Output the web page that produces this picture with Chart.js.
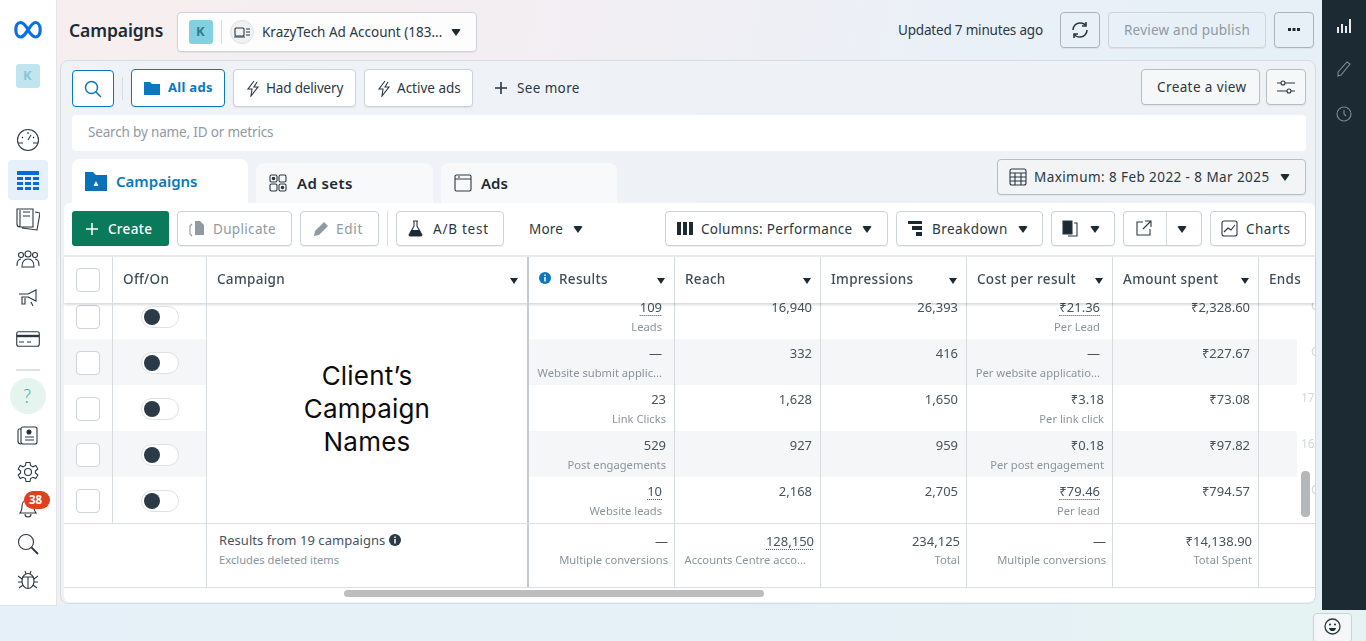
<!DOCTYPE html>
<html><head><meta charset="utf-8"><title>Campaigns</title>
<script src="https://cdn.jsdelivr.net/npm/chart.js@4"></script>
<style>
html,body{margin:0;padding:0;width:1366px;height:641px;overflow:hidden;font-family:"Noto Sans",sans-serif;color:#1c2b33}
body{position:relative;background:linear-gradient(100deg,#f7eeee 0%,#f3eef2 35%,#e9f0f8 70%,#e6f0f6 100%)}
div,i,svg,span.t{position:absolute;box-sizing:border-box}
.t{transform:translateY(-50%);white-space:nowrap;font-size:13.5px;color:#2a3842;line-height:1.2}
.b{background:#fff;border:1px solid #cbd2d9;border-radius:4px;box-shadow:0 1px 1px rgba(0,0,0,.06)}
.bl{border:1.5px solid #0a78be}
.car{width:0;height:0;border-left:5.5px solid transparent;border-right:5.5px solid transparent;border-top:7px solid #1c2b33;border-radius:2px}
.hc{width:0;height:0;border-left:4.5px solid transparent;border-right:4.5px solid transparent;border-top:6px solid #1c2b33}
.dis{color:#8f9aa3}
.v{background:#d6dbdf;width:1px}
svg{fill:none;stroke:#2a3842;stroke-width:1.1}
.cb{width:24px;height:24px;left:76px;background:#fff;border:1px solid #cfd4d9;border-radius:4px}
.tg{width:38px;height:22px;left:141px;background:#fff;border:1px solid #dfe2e5;border-radius:11px}
.tg i{left:2px;top:2px;width:16px;height:16px;border-radius:50%;background:#2b3a47}
.hdr{font-size:13.5px;color:#3f4d57;font-weight:500;letter-spacing:.3px}
</style></head><body>
<div style="left:0;top:604px;width:1366px;height:37px;background:linear-gradient(90deg,#e5f0f8 0%,#e5f0f7 50%,#e6f3f2 100%)"></div>
<div style="left:0;top:0;width:57px;height:606px;background:#fff;border-right:1px solid #e2e5e8;border-bottom:1px solid #e2e5e8"></div>
<div style="left:1322px;top:0;width:44px;height:610px;background:#1c2b33"></div>
<!-- left rail -->
<svg style="left:14px;top:20px" width="28" height="20" viewBox="0 0 28 20"><path d="M14 10C11 4 8.500 2.500 6.500 2.500C3.500 2.500 1.800 5.500 1.800 9.500C1.800 14 3.800 17 6.500 17C10 17 11.500 13 14 10C16.500 6 18.500 2.500 21.500 2.500C24.500 2.500 26.200 6 26.200 10C26.200 14 24.500 17 21.500 17C18.500 17 16.500 14 14 10Z" stroke="#0a6fe6" stroke-width="3.200"/></svg>
<div style="left:16px;top:64px;width:24px;height:24px;background:#bfe6ef;border-radius:3px"></div><span class="t" style="left:23px;top:76px;font-weight:700;font-size:13px;color:#8cc5d2">K</span>
<svg style="left:16px;top:128px" width="24" height="24" viewBox="0 0 24 24"><circle cx="12" cy="12" r="10.500"/><path d="M2 15H7M17 15H22M12 12L15 7M6 9L7 10M12 4V6M18 9L17 10"/></svg>
<div style="left:8px;top:160px;width:40px;height:40px;background:#e6f0fa;border-radius:4px"></div>
<svg style="left:16px;top:169px" width="24" height="22" viewBox="0 0 24 22"><path d="M1 2H23V6H1ZM1 8H7V11H1ZM9 8H15V11H9ZM17 8H23V11H17ZM1 13H7V16H1ZM9 13H15V16H9ZM17 13H23V16H17ZM1 18H7V21H1ZM9 18H15V21H9ZM17 18H23V21H17Z" fill="#0a68d8" stroke="none"/></svg>
<svg style="left:16px;top:207px" width="24" height="24" viewBox="0 0 24 24"><path d="M1 2H17V20H4C2 20 1 19 1 17ZM4 3V20M7 5H14M7 9H14M19 5L24 6L21 23L6 21"/></svg>
<svg style="left:16px;top:250px" width="24" height="18" viewBox="0 0 24 18"><circle cx="5" cy="5" r="2.500"/><circle cx="12" cy="4" r="3"/><circle cx="19" cy="5" r="2.500"/><path d="M1 16C1 11 3 9 5 9M23 16C23 11 21 9 19 9M6 17C6 11 9 9 12 9C15 9 18 11 18 17Z"/></svg>
<svg style="left:18px;top:288px" width="20" height="20" viewBox="0 0 20 20"><path d="M1 6H10L18 2V13L10 9H4V16H7V10M13 14L15 18"/></svg>
<svg style="left:16px;top:331px" width="24" height="16" viewBox="0 0 24 16"><rect x=".7" y=".7" width="22.600" height="14.600" rx="2"/><path d="M1 5H23" stroke-width="2.400"/><path d="M3 11H8M11 11H15"/></svg>
<div style="left:16px;top:369px;width:24px;height:1.500px;background:#dde1e4"></div>
<div style="left:10px;top:378px;width:36px;height:36px;border-radius:50%;background:#e6f4f0"></div><span class="t" style="left:23px;top:396px;font-size:19px;font-family:Lato,sans-serif;font-weight:300;color:#3aa99a">?</span>
<svg style="left:17px;top:426px" width="21" height="20" viewBox="0 0 21 20"><rect x="4" y="1" width="16" height="17" rx="2"/><path d="M4 3H2C1 3 1 4 1 5V15C1 17 2 18 4 18M8 11H17M8 14H17"/><circle cx="12" cy="6" r="2" fill="#1c2b33"/></svg>
<svg style="left:17px;top:461px" width="22" height="22" viewBox="0 0 22 22"><circle cx="11" cy="11" r="3.500"/><path d="M9 1.500H13L13.500 4.500L16 5.800L18.800 4.500L20.800 8L18.400 10V12L20.800 14L18.800 17.500L16 16.300L13.500 17.500L13 20.500H9L8.500 17.500L6 16.300L3.200 17.500L1.200 14L3.600 12V10L1.200 8L3.200 4.500L6 5.800L8.500 4.500Z"/></svg>
<svg style="left:18px;top:497px" width="20" height="22" viewBox="0 0 20 22"><path d="M2 16C4 14 4 11 4 9C4 5 7 3 10 3C13 3 16 5 16 9C16 11 16 14 18 16ZM7 17C7 21 13 21 13 17"/></svg>
<div style="left:24px;top:491px;width:26px;height:18px;border-radius:9px;background:#e0401f"></div><span class="t" style="left:29px;top:500px;font-size:11.500px;font-weight:700;color:#fff">38</span>
<svg style="left:17px;top:533px" width="22" height="22" viewBox="0 0 22 22"><circle cx="9" cy="9" r="7.500"/><path d="M14.500 14.500L21 21" stroke-width="1.800"/></svg>
<svg style="left:18px;top:570px" width="20" height="20" viewBox="0 0 20 20"><ellipse cx="10" cy="11" rx="6" ry="7.500"/><path d="M4 7H16M10 7V18M7 1L8 4M13 1L12 4M0 6L4 9M20 6L16 9M0 12H4M20 12H16M1 18L5 15M19 18L15 15"/></svg>
<!-- top bar -->
<span class="t" style="left:69px;top:30px;font-size:17.500px;font-weight:600;letter-spacing:-.1px;color:#1c2b33">Campaigns</span>
<div class="b" style="left:177px;top:12px;width:300px;height:40px;background:rgba(255,255,255,.85)"></div>
<div style="left:189px;top:20px;width:24px;height:24px;background:#83d1e0;border-radius:3px"></div><span class="t" style="left:196px;top:32px;font-weight:700;font-size:13px;color:#2d7e91">K</span>
<div class="v" style="left:221px;top:20px;height:24px"></div>
<div style="left:230px;top:20px;width:24px;height:24px;border-radius:50%;background:#f0f2f4;border:1px solid #dfe2e5"></div>
<svg style="left:234px;top:27px" width="16" height="11" viewBox="0 0 16 11"><rect x="1" y="1" width="9" height="8" rx="1"/><path d="M12 2H16M12 5H16M12 8H16M0 10H11"/></svg>
<span class="t" style="left:262px;top:32px">KrazyTech Ad Account (183...</span><i class="car" style="left:451px;top:29px"></i>
<span class="t" style="left:898px;top:30px;letter-spacing:-.19px">Updated 7 minutes ago</span>
<div class="b" style="left:1060px;top:12px;width:40px;height:36px;background:transparent;border-color:#aab4bc"></div>
<svg style="left:1071px;top:21px" width="18" height="18" viewBox="0 0 18 18"><path d="M2 9C2 5 5 2 9 2C12 2 14 3 15 5M16 9C16 13 13 16 9 16C6 16 4 15 3 13M15 1V5H11M3 17V13H7" stroke-width="1.600"/></svg>
<div class="b" style="left:1108px;top:12px;width:158px;height:36px;background:transparent;border-color:#ccd4da"></div><span class="t dis" style="left:1124px;top:30px;letter-spacing:.22px">Review and publish</span>
<div class="b" style="left:1274px;top:12px;width:40px;height:36px;background:transparent;border-color:#aab4bc"></div>
<svg style="left:1287px;top:28px" width="14" height="4" viewBox="0 0 14 4"><path d="M1 0H4V3H1ZM5.500 0H8.500V3H5.500ZM10 0H13V3H10Z" fill="#1c2b33" stroke="none"/></svg>
<!-- right rail -->
<svg style="left:1336px;top:18px" width="16" height="16" viewBox="0 0 16 16"><path d="M2 9V15M6 6V15M10 8V15M14 1V15" stroke="#fff" stroke-width="1.800"/></svg>
<svg style="left:1336px;top:60px" width="16" height="18" viewBox="0 0 16 18"><path d="M2 12L11 2L14 4L5 15L2 16Z" stroke="#7e8a93"/></svg>
<svg style="left:1336px;top:105px" width="16" height="18" viewBox="0 0 16 18"><circle cx="8" cy="9" r="7" stroke="#7e8a93"/><path d="M8 5V9L10 11" stroke="#7e8a93"/></svg>
<!-- panel -->
<div style="left:60px;top:60px;width:1256px;height:544px;background:linear-gradient(90deg,#eff2f6,#eef2f7);border:1px solid #d6dde2;border-radius:8px"></div>
<div class="b bl" style="left:72px;top:70px;width:42px;height:37px"></div>
<svg style="left:84px;top:80px" width="18" height="18" viewBox="0 0 18 18"><circle cx="7.500" cy="7.500" r="6" stroke="#0a78be" stroke-width="1.500"/><path d="M12 12L17 17" stroke="#0a78be" stroke-width="1.500"/></svg>
<div class="v" style="left:122px;top:77px;height:23px"></div>
<div class="b bl" style="left:131px;top:69px;width:94px;height:38px"></div>
<svg style="left:144px;top:81px" width="16" height="14" viewBox="0 0 16 14"><path d="M0 1H6L8 3H16V14H0Z" fill="#0a78be" stroke="none"/></svg>
<span class="t" style="left:168px;top:88px;font-weight:700;font-size:13px;color:#0a78be;letter-spacing:.3px">All ads</span>
<div class="b" style="left:233px;top:69px;width:123px;height:38px"></div>
<svg style="left:246px;top:80px" width="14" height="17" viewBox="0 0 14 17"><path d="M8 1L2 9H6L5 16L12 7H8L11 2"/></svg>
<span class="t" style="left:266px;top:88px;letter-spacing:-.17px">Had delivery</span>
<div class="b" style="left:364px;top:69px;width:109px;height:38px"></div>
<svg style="left:377px;top:80px" width="14" height="17" viewBox="0 0 14 17"><path d="M8 1L2 9H6L5 16L12 7H8L11 2"/></svg>
<span class="t" style="left:397px;top:88px">Active ads</span>
<svg style="left:495px;top:82px" width="12" height="12" viewBox="0 0 12 12"><path d="M6 0V12M0 6H12" stroke-width="1.600"/></svg>
<span class="t" style="left:517px;top:88px;letter-spacing:.37px">See more</span>
<div class="b" style="left:1141px;top:69px;width:119px;height:36px;background:#f6f7f9;border-color:#b6bfc6"></div><span class="t" style="left:1157px;top:87px;letter-spacing:.4px">Create a view</span>
<div class="b" style="left:1266px;top:69px;width:40px;height:36px;background:#f6f7f9;border-color:#b6bfc6"></div>
<svg style="left:1276px;top:78px" width="20" height="18" viewBox="0 0 20 18"><circle cx="7" cy="5" r="2"/><circle cx="13" cy="13" r="2"/><path d="M1 5H5M9 5H19M1 13H11M15 13H19"/></svg>
<div style="left:72px;top:115px;width:1234px;height:36px;background:#fff;border-radius:4px"></div>
<span class="t dis" style="left:88px;top:132px;letter-spacing:-.17px">Search by name, ID or metrics</span>
<div style="left:256px;top:163px;width:177px;height:46px;background:#f8f9fa;border-radius:8px 8px 0 0"></div>
<svg style="left:269px;top:174px" width="18" height="18" viewBox="0 0 18 18"><rect x="1" y="1" width="7" height="7" rx="1.500"/><rect x="10" y="1" width="7" height="7" rx="1.500"/><rect x="1" y="10" width="7" height="7" rx="1.500"/><rect x="10" y="10" width="7" height="7" rx="1.500"/><circle cx="4.500" cy="4.500" r="1.200" fill="#1c2b33"/><circle cx="13.500" cy="13.500" r="1.200" fill="#1c2b33"/></svg>
<span class="t" style="left:297px;top:183px;font-size:15px;font-weight:600;letter-spacing:.4px;color:#1c2b33">Ad sets</span>
<div style="left:441px;top:163px;width:176px;height:46px;background:#f8f9fa;border-radius:8px 8px 0 0"></div>
<svg style="left:454px;top:174px" width="18" height="18" viewBox="0 0 18 18"><rect x="1" y="1" width="16" height="16" rx="1.500"/><path d="M1 5H17M4 3H6"/></svg>
<span class="t" style="left:481px;top:183px;font-size:15px;font-weight:600;color:#1c2b33">Ads</span>
<div class="b" style="left:997px;top:159px;width:309px;height:36px;background:#f2f4f6;border-color:#b6bfc6"></div>
<svg style="left:1009px;top:168px" width="18" height="18" viewBox="0 0 18 18"><rect x="1" y="1" width="16" height="16" rx="2"/><path d="M1 5H17M1 9H17M1 13H17M6 5V17M12 5V17"/></svg>
<span class="t" style="left:1034px;top:177px;letter-spacing:.42px">Maximum: 8 Feb 2022 - 8 Mar 2025</span><i class="car" style="left:1280px;top:174px"></i>
<!-- white table area -->
<div style="left:64px;top:203px;width:1251px;height:399px;background:#fff;border-radius:6px"></div>
<div style="left:72px;top:159px;width:176px;height:50px;background:#fff;border-radius:8px 8px 0 0"></div>
<svg style="left:85px;top:171px" width="22" height="20" viewBox="0 0 22 20"><path d="M0 1H8L11 4H22V20H0Z" fill="#0a70b8" stroke="none"/><path d="M8.500 15L11 10L13.500 15Z" fill="#fff" stroke="none"/></svg>
<span class="t" style="left:116px;top:181px;font-size:15px;font-weight:600;color:#0a78be">Campaigns</span>
<div style="left:72px;top:211px;width:97px;height:35px;background:#0a7a5b;border-radius:3px"></div>
<svg style="left:86px;top:223px" width="12" height="12" viewBox="0 0 12 12"><path d="M6 0V12M0 6H12" stroke="#fff" stroke-width="1.500"/></svg>
<span class="t" style="left:108px;top:229px;color:#fff;font-weight:500;letter-spacing:.3px">Create</span>
<div class="b" style="left:177px;top:211px;width:115px;height:35px"></div>
<svg style="left:189px;top:220px" width="16" height="17" viewBox="0 0 16 17"><path d="M6 1H11L15 5V15H6Z" fill="#8f9aa3" stroke="none"/><path d="M3 4L1 6V14L3 16" stroke="#8f9aa3"/></svg>
<span class="t dis" style="left:213px;top:229px;letter-spacing:.33px">Duplicate</span>
<div class="b" style="left:300px;top:211px;width:79px;height:35px"></div>
<svg style="left:313px;top:221px" width="16" height="16" viewBox="0 0 16 16"><path d="M1 15L2 10L11 1L15 5L6 14Z" fill="#8f9aa3" stroke="none"/></svg>
<span class="t dis" style="left:336px;top:229px;letter-spacing:.75px">Edit</span>
<div class="v" style="left:387px;top:211px;height:35px"></div>
<div class="b" style="left:396px;top:211px;width:108px;height:35px"></div>
<svg style="left:408px;top:220px" width="15" height="17" viewBox="0 0 15 17"><path d="M5 1H10M6 1V6L1 15C1 16 2 16 3 16H12C13 16 14 16 14 15L9 6V1"/><path d="M3.500 10H11.500L14 16H1Z" fill="#1c2b33" stroke="none"/></svg>
<span class="t" style="left:433px;top:229px;letter-spacing:.75px">A/B test</span>
<span class="t" style="left:529px;top:229px;letter-spacing:.2px">More</span><i class="car" style="left:573px;top:226px"></i>
<div class="b" style="left:665px;top:211px;width:223px;height:35px"></div>
<svg style="left:677px;top:222px" width="16" height="13" viewBox="0 0 16 13"><path d="M0 0H4V13H0ZM6 0H10V13H6ZM12 0H16V13H12Z" fill="#1c2b33" stroke="none"/></svg>
<span class="t" style="left:701px;top:229px;letter-spacing:.3px">Columns: Performance</span><i class="car" style="left:862px;top:226px"></i>
<div class="b" style="left:896px;top:211px;width:147px;height:35px"></div>
<svg style="left:908px;top:221px" width="16" height="15" viewBox="0 0 16 15"><path d="M0 0H14V3H0ZM4 5H14V9H4ZM8 11H14V15H8Z" fill="#1c2b33" stroke="none"/></svg>
<span class="t" style="left:932px;top:229px;letter-spacing:.45px">Breakdown</span><i class="car" style="left:1018px;top:226px"></i>
<div class="b" style="left:1051px;top:211px;width:64px;height:35px"></div>
<svg style="left:1062px;top:220px" width="16" height="17" viewBox="0 0 16 17"><path d="M1 1H10V14H1Z" fill="#1c2b33"/><path d="M12 3H15V16H6"/></svg><i class="car" style="left:1090px;top:226px"></i>
<div class="b" style="left:1123px;top:211px;width:79px;height:35px"></div><div class="v" style="left:1166px;top:212px;height:33px"></div>
<svg style="left:1136px;top:220px" width="16" height="16" viewBox="0 0 16 16"><path d="M7 2H1V15H14V9M9 1H15V7M15 1L7 9"/></svg><i class="car" style="left:1177px;top:226px"></i>
<div class="b" style="left:1210px;top:211px;width:96px;height:35px"></div>
<svg style="left:1221px;top:220px" width="17" height="17" viewBox="0 0 17 17"><rect x="1" y="1" width="15" height="15" rx="2"/><path d="M3 12L7 8L10 10L14 5"/></svg>
<span class="t" style="left:1246px;top:229px;letter-spacing:.5px">Charts</span>

<!-- body: left columns (built from rows) -->
<div id="leftRows"></div>
<!-- body: metrics drawn by Chart.js -->
<div style="left:529px;top:293px;width:787px;height:230px;overflow:hidden"><canvas id="rowsChart" width="876" height="230" style="display:block"></canvas></div>
<div style="left:529px;top:523px;width:787px;height:64px;overflow:hidden"><canvas id="totalsChart" width="876" height="64" style="display:block"></canvas></div>
<!-- header -->
<div id="head" style="left:64px;top:255px;width:1251px;height:48px;background:#fff;border-top:2px solid #e8eaed;box-shadow:0 2px 2px rgba(0,0,0,.14)"></div>
<div id="heads"></div>
<!-- fixed lines -->
<div style="left:112px;top:303px;width:1px;height:220px;background:#d6dbdf"></div>
<div style="left:206px;top:257px;width:1px;height:330px;background:#d6dbdf"></div>
<div style="left:527px;top:257px;width:2px;height:330px;background:#c4cace"></div>
<div style="left:64px;top:523px;width:1251px;height:1px;background:#dde0e3"></div>
<div style="left:64px;top:587px;width:1251px;height:1px;background:#dde0e3"></div>
<div style="left:207px;top:359px;width:320px;height:100px;text-align:center;font-family:Inter,sans-serif;font-size:26px;letter-spacing:.2px;line-height:33px;color:#0c0c0c">Client’s<br>Campaign<br>Names</div>
<span class="t" style="left:219px;top:540.500px;font-size:13px;color:#46535e;letter-spacing:.05px">Results from 19 campaigns</span>
<svg style="left:389px;top:534px" width="12" height="12" viewBox="0 0 12 12"><circle cx="6" cy="6" r="6" fill="#2b3a47" stroke="none"/><path d="M6 5V9.500M6 2.500V4" stroke="#fff" stroke-width="1.500"/></svg>
<span class="t" style="left:219px;top:560px;font-size:11.200px;color:#8a949d">Excludes deleted items</span>
<!-- scrollbars -->
<div style="left:344px;top:590px;width:420px;height:7px;background:#bdbdbd;border-radius:4px"></div>
<div style="left:1301px;top:471px;width:9px;height:46px;background:#b5b8ba;border-radius:4px"></div>
<!-- feedback -->
<div class="b" style="left:1313px;top:613px;width:39px;height:30px;background:#f4f6f8;border-color:#cbd2d9"></div>
<svg style="left:1324px;top:618px" width="17" height="17" viewBox="0 0 17 17"><circle cx="8.500" cy="8.500" r="7.500" stroke-width="1.300"/><circle cx="6" cy="6.500" r="1" fill="#1c2b33" stroke="none"/><circle cx="11" cy="6.500" r="1" fill="#1c2b33" stroke="none"/><path d="M5 10H12C11.500 12.500 10 13 8.500 13C7 13 5.500 12.500 5 10Z" fill="#1c2b33" stroke="none"/></svg>
<script>
const columnNames = ["Results", "Reach", "Impressions", "Cost per result", "Amount spent", "Ends"];
const rowNames = ["Row 1", "Row 2", "Row 3", "Row 4", "Row 5"];
const results = ["109", "—", "23", "529", "10"];
const resultKinds = ["Leads", "Website submit applic...", "Link Clicks", "Post engagements", "Website leads"];
const reach = ["16,940", "332", "1,628", "927", "2,168"];
const impressions = ["26,393", "416", "1,650", "959", "2,705"];
const costPerResult = ["₹21.36", "—", "₹3.18", "₹0.18", "₹79.46"];
const costKinds = ["Per Lead", "Per website applicatio...", "Per link click", "Per post engagement", "Per lead"];
const amountSpent = ["₹2,328.60", "₹227.67", "₹73.08", "₹97.82", "₹794.57"];
const ends = ["O", "O", "17", "16", "O"];
const totalRowNames = ["Totals"];
const totalValues = ["—", "128,150", "234,125", "—", "₹14,138.90", ""];
const totalKinds = ["Multiple conversions", "Accounts Centre acco...", "Total", "Multiple conversions", "Total Spent", ""];
const dottedResultRows = [0, 4];

const FONT = '"Noto Sans",sans-serif';
function cellPoints(colIndex, rows, values, kinds) {
  return rows.map((r, i) => ({x: columnNames[colIndex], y: r, value: values[i], kind: kinds ? kinds[i] : "", row: i}));
}
const tablePlugin = {
  id: "tableCells",
  beforeDatasetsDraw(chart) {
    const {ctx, scales: {x, y}} = chart, o = chart.options.plugins.tableCells;
    const colW = x.getPixelForValue(columnNames[1]) - x.getPixelForValue(columnNames[0]);
    const labels = y.getLabels();
    const rowH = chart.height / labels.length;
    ctx.save();
    if (o.striped) labels.forEach((l, i) => {
      if (i % 2 === 1) { ctx.fillStyle = "#f5f6f7"; ctx.fillRect(0, y.getPixelForValue(l) - rowH / 2, colW * 5 + 38, rowH); }
    });
    ctx.fillStyle = "#d6dbdf";
    columnNames.slice(0, 5).forEach(c => ctx.fillRect(Math.round(x.getPixelForValue(c) + colW / 2) - 1, 0, 1, chart.height));
    ctx.restore();
  },
  afterDatasetsDraw(chart) {
    const {ctx, scales: {x, y}} = chart, o = chart.options.plugins.tableCells;
    const colW = x.getPixelForValue(columnNames[1]) - x.getPixelForValue(columnNames[0]);
    ctx.save();
    chart.data.datasets.forEach((ds, di) => {
      chart.getDatasetMeta(di).data.forEach((el, k) => {
        const p = ds.data[k], top = el.y - o.rowH / 2;
        if (di === 5) {
          ctx.font = "12px " + FONT; ctx.fillStyle = "#d4d8db"; ctx.textAlign = "left"; ctx.textBaseline = "middle";
          ctx.fillText(p.value, el.x - colW / 2 + (p.value === "O" ? 52 : 42), top + o.valueY - 1);
          return;
        }
        const right = el.x + colW / 2;
        const dotted = o.striped && (di === 0 || di === 3) && dottedResultRows.includes(p.row);
        const inset = o.striped ? (dotted || ((di === 0 || di === 3) && p.value === "—") ? 13 : 9) : 7;
        const subInset = !o.striped && di === 1 ? 15 : inset;
        ctx.textAlign = "right"; ctx.textBaseline = "middle";
        ctx.font = "13px " + FONT; ctx.fillStyle = "#46535e";
        ctx.fillText(p.value, right - inset, top + o.valueY);
        if (dotted || (!o.striped && di === 1)) {
          const w = ctx.measureText(p.value).width;
          ctx.strokeStyle = "#46535e"; ctx.setLineDash([1, 1]); ctx.lineWidth = 1;
          ctx.beginPath(); ctx.moveTo(right - inset - w, top + o.valueY + 7.5); ctx.lineTo(right - inset, top + o.valueY + 7.5); ctx.stroke(); ctx.setLineDash([]);
        }
        ctx.font = "11.2px " + FONT; ctx.fillStyle = "#8a949d";
        if (p.kind) ctx.fillText(p.kind, right - subInset, top + o.subY);
      });
    });
    ctx.restore();
  }
};
function makeTable(id, rows, datasets, cellOpts) {
  return new Chart(document.getElementById(id), {
    type: "scatter",
    data: {datasets: datasets.map(d => ({data: d, pointRadius: 0, showLine: false}))},
    options: {
      responsive: false, animation: false, events: [],
      layout: {padding: 0},
      scales: {
        x: {type: "category", labels: columnNames, offset: true, display: false},
        y: {type: "category", labels: rows, offset: true, display: false}
      },
      plugins: {legend: {display: false}, tooltip: {enabled: false}, tableCells: cellOpts}
    },
    plugins: [tablePlugin]
  });
}
makeTable("rowsChart", rowNames, [
  cellPoints(0, rowNames, results, resultKinds),
  cellPoints(1, rowNames, reach),
  cellPoints(2, rowNames, impressions),
  cellPoints(3, rowNames, costPerResult, costKinds),
  cellPoints(4, rowNames, amountSpent),
  cellPoints(5, rowNames, ends)
], {striped: true, rowH: 46, valueY: 15, subY: 35});
makeTable("totalsChart", totalRowNames, columnNames.slice(0, 5).map((c, i) => (
  cellPoints(i, totalRowNames, [totalValues[i]], [totalKinds[i]])
)), {striped: false, rowH: 64, valueY: 19, subY: 38});

// left columns and header cells
let h = "";
rowNames.forEach((r, i) => {
  const top = 293 + i * 46;
  if (i % 2 === 1) h += `<div style="left:64px;top:${top}px;width:143px;height:46px;background:#f5f6f7"></div>`;
  h += `<div class="cb" style="top:${top + 12}px"></div><div class="tg" style="top:${top + 13}px"><i></i></div>`;
});
document.getElementById("leftRows").innerHTML = h;
let hh = `<div class="cb" style="top:268px"></div><div class="v" style="left:112px;top:257px;height:46px"></div>
<span class="t hdr" style="left:123px;top:279px">Off/On</span>
<span class="t hdr" style="left:217px;top:279px">Campaign</span><i class="hc" style="left:510px;top:278px"></i>`;
columnNames.forEach((c, i) => {
  const left = 529 + i * 146;
  const tx = i === 0 ? 559 : left + 10;
  hh += `<span class="t hdr" style="left:${tx}px;top:279px">${c}</span>`;
  if (i < 5) hh += `<i class="hc" style="left:${left + 128}px;top:278px"></i><div class="v" style="left:${left + 145}px;top:257px;height:46px"></div>`;
});
hh += `<svg style="left:539px;top:272px" width="12" height="12" viewBox="0 0 12 12"><circle cx="6" cy="6" r="6" fill="#0a78be" stroke="none"/><path d="M6 5V9.500M6 2.500V4" stroke="#fff" stroke-width="1.500"/></svg>`;
document.getElementById("heads").innerHTML = hh;
</script>
</body></html>
